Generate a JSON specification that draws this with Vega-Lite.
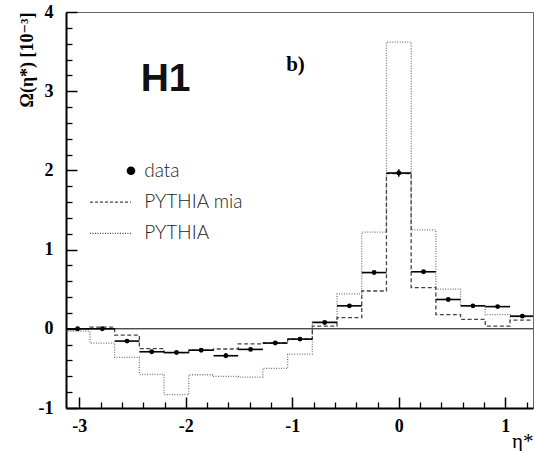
{
  "$schema": "https://vega.github.io/schema/vega-lite/v6.json",
  "width": 467,
  "height": 396,
  "autosize": {"type": "none"},
  "padding": {"left": 66, "top": 12, "right": 1, "bottom": 43},
  "background": "white",
  "config": {
    "view": {"stroke": "#666", "strokeWidth": 1},
    "axis": {"grid": false}
  },
  "datasets": {
    "points": [
      {"eta": -3.016, "lo": -3.132, "hi": -2.900, "omega": 0.00, "elo": -0.02, "ehi": 0.02},
      {"eta": -2.784, "lo": -2.900, "hi": -2.668, "omega": 0.00, "elo": -0.02, "ehi": 0.02},
      {"eta": -2.552, "lo": -2.668, "hi": -2.436, "omega": -0.155, "elo": -0.175, "ehi": -0.135},
      {"eta": -2.320, "lo": -2.436, "hi": -2.204, "omega": -0.29, "elo": -0.31, "ehi": -0.27},
      {"eta": -2.088, "lo": -2.204, "hi": -1.972, "omega": -0.30, "elo": -0.32, "ehi": -0.28},
      {"eta": -1.856, "lo": -1.972, "hi": -1.740, "omega": -0.27, "elo": -0.29, "ehi": -0.25},
      {"eta": -1.624, "lo": -1.740, "hi": -1.508, "omega": -0.34, "elo": -0.37, "ehi": -0.31},
      {"eta": -1.392, "lo": -1.508, "hi": -1.276, "omega": -0.26, "elo": -0.28, "ehi": -0.24},
      {"eta": -1.160, "lo": -1.276, "hi": -1.044, "omega": -0.18, "elo": -0.20, "ehi": -0.16},
      {"eta": -0.928, "lo": -1.044, "hi": -0.812, "omega": -0.13, "elo": -0.15, "ehi": -0.11},
      {"eta": -0.696, "lo": -0.812, "hi": -0.580, "omega": 0.08, "elo": 0.06, "ehi": 0.10},
      {"eta": -0.464, "lo": -0.580, "hi": -0.348, "omega": 0.29, "elo": 0.27, "ehi": 0.31},
      {"eta": -0.232, "lo": -0.348, "hi": -0.116, "omega": 0.71, "elo": 0.69, "ehi": 0.73},
      {"eta": 0.000, "lo": -0.116, "hi": 0.116, "omega": 1.967, "elo": 1.92, "ehi": 2.014},
      {"eta": 0.232, "lo": 0.116, "hi": 0.348, "omega": 0.72, "elo": 0.70, "ehi": 0.74},
      {"eta": 0.464, "lo": 0.348, "hi": 0.580, "omega": 0.37, "elo": 0.35, "ehi": 0.39},
      {"eta": 0.696, "lo": 0.580, "hi": 0.812, "omega": 0.29, "elo": 0.27, "ehi": 0.31},
      {"eta": 0.928, "lo": 0.812, "hi": 1.044, "omega": 0.28, "elo": 0.26, "ehi": 0.30},
      {"eta": 1.160, "lo": 1.044, "hi": 1.276, "omega": 0.16, "elo": 0.14, "ehi": 0.18}
    ],
    "hist": [
      {"edge": -3.132, "mia": 0.00, "pythia": -0.03},
      {"edge": -2.900, "mia": 0.02, "pythia": -0.18},
      {"edge": -2.668, "mia": -0.08, "pythia": -0.36},
      {"edge": -2.436, "mia": -0.25, "pythia": -0.575},
      {"edge": -2.204, "mia": -0.30, "pythia": -0.83},
      {"edge": -1.972, "mia": -0.27, "pythia": -0.58},
      {"edge": -1.740, "mia": -0.255, "pythia": -0.60},
      {"edge": -1.508, "mia": -0.19, "pythia": -0.61},
      {"edge": -1.276, "mia": -0.18, "pythia": -0.50},
      {"edge": -1.044, "mia": -0.13, "pythia": -0.32},
      {"edge": -0.812, "mia": 0.035, "pythia": 0.09},
      {"edge": -0.580, "mia": 0.14, "pythia": 0.44},
      {"edge": -0.348, "mia": 0.477, "pythia": 1.22},
      {"edge": -0.116, "mia": 1.96, "pythia": 3.62},
      {"edge": 0.116, "mia": 0.52, "pythia": 1.25},
      {"edge": 0.348, "mia": 0.18, "pythia": 0.50},
      {"edge": 0.580, "mia": 0.12, "pythia": 0.29},
      {"edge": 0.812, "mia": 0.035, "pythia": 0.18},
      {"edge": 1.044, "mia": 0.11, "pythia": 0.15},
      {"edge": 1.276, "mia": 0.11, "pythia": 0.15}
    ],
    "one": [{}]
  },
  "layer": [
    {
      "data": {"name": "hist"},
      "mark": {"type": "line", "interpolate": "step-after", "clip": true, "color": "#777", "strokeWidth": 1.3, "strokeDash": [1, 1.5]},
      "encoding": {
        "x": {"field": "edge", "type": "quantitative", "scale": {"domain": [-3.125, 1.26], "nice": false, "zero": false},
          "axis": {"orient": "bottom", "values": [-2.8, -2.6, -2.4, -2.2, -1.8, -1.6, -1.4, -1.2, -0.8, -0.6, -0.4, -0.2, 0.2, 0.4, 0.6, 0.8, 1.2],
            "labels": false, "domain": false, "tickSize": -6, "tickColor": "#000", "tickWidth": 1.3, "title": null}},
        "y": {"field": "pythia", "type": "quantitative", "scale": {"domain": [-1, 4], "nice": false, "zero": false},
          "axis": {"orient": "left", "values": [-0.8, -0.6, -0.4, -0.2, 0.2, 0.4, 0.6, 0.8, 1.2, 1.4, 1.6, 1.8, 2.2, 2.4, 2.6, 2.8, 3.2, 3.4, 3.6, 3.8],
            "labels": false, "domain": false, "tickSize": -6, "tickColor": "#000", "tickWidth": 1.3, "title": null}}
      }
    },
    {
      "data": {"name": "hist"},
      "mark": {"type": "line", "interpolate": "step-after", "clip": true, "color": "#444", "strokeWidth": 1.3, "strokeDash": [4, 2.5]},
      "encoding": {
        "x": {"field": "edge", "type": "quantitative", "axis": null},
        "y": {"field": "mia", "type": "quantitative", "axis": null}
      }
    },
    {
      "data": {"name": "one"},
      "mark": {"type": "rule", "color": "#000", "strokeWidth": 1},
      "encoding": {"y": {"datum": 0, "type": "quantitative", "axis": null}}
    },
    {
      "data": {"name": "points"},
      "mark": {"type": "rule", "color": "#000", "strokeWidth": 1.6, "clip": true},
      "encoding": {
        "x": {"field": "lo", "type": "quantitative",
          "axis": {"orient": "bottom", "values": [-3, -2, -1, 0, 1], "labelExpr": "'' + datum.value", "tickSize": -11, "tickWidth": 1.5, "tickColor": "#000",
            "domainColor": "#000", "domainWidth": 2, "labelFont": "Liberation Serif, DejaVu Serif, serif", "labelFontWeight": 700, "labelFontSize": 18,
            "labelColor": "#000", "labelPadding": 20, "title": "η*", "titleFont": "Liberation Serif, DejaVu Serif, serif", "titleFontWeight": "normal",
            "titleFontSize": 21, "titleColor": "#000", "titleAnchor": "end", "titlePadding": -5}},
        "x2": {"field": "hi"},
        "y": {"field": "omega", "type": "quantitative",
          "axis": {"orient": "left", "values": [-1, 0, 1, 2, 3, 4], "labelExpr": "'' + datum.value", "tickSize": -11, "tickWidth": 1.5, "tickColor": "#000",
            "domainColor": "#000", "domainWidth": 2, "labelFont": "Liberation Serif, DejaVu Serif, serif", "labelFontWeight": 700, "labelFontSize": 18,
            "labelColor": "#000", "labelPadding": 24, "title": "Ω(η*) [10⁻³]", "titleFont": "Liberation Serif, DejaVu Serif, serif", "titleFontWeight": "bold",
            "titleFontSize": 18, "titleColor": "#000", "titleAnchor": "end", "titlePadding": 2}}
      }
    },
    {
      "data": {"name": "points"},
      "mark": {"type": "rule", "color": "#000", "strokeWidth": 1.4},
      "encoding": {
        "x": {"field": "eta", "type": "quantitative", "axis": null},
        "y": {"field": "elo", "type": "quantitative", "axis": null},
        "y2": {"field": "ehi"}
      }
    },
    {
      "data": {"name": "points"},
      "mark": {"type": "point", "filled": true, "color": "#000", "size": 24, "opacity": 1},
      "encoding": {
        "x": {"field": "eta", "type": "quantitative", "axis": null},
        "y": {"field": "omega", "type": "quantitative", "axis": null}
      }
    },
    {
      "data": {"name": "one"},
      "mark": {"type": "point", "filled": true, "color": "#000", "size": 75, "opacity": 1},
      "encoding": {
        "x": {"datum": -2.515, "type": "quantitative", "axis": null},
        "y": {"datum": 1.996, "type": "quantitative", "axis": null}
      }
    },
    {
      "data": {"name": "one"},
      "mark": {"type": "rule", "color": "#444", "strokeWidth": 1.2, "strokeDash": [3, 2]},
      "encoding": {
        "x": {"datum": -2.9, "type": "quantitative", "axis": null},
        "x2": {"datum": -2.515},
        "y": {"datum": 1.6, "type": "quantitative", "axis": null}
      }
    },
    {
      "data": {"name": "one"},
      "mark": {"type": "rule", "color": "#444", "strokeWidth": 1.2, "strokeDash": [1, 1.5]},
      "encoding": {
        "x": {"datum": -2.9, "type": "quantitative", "axis": null},
        "x2": {"datum": -2.515},
        "y": {"datum": 1.205, "type": "quantitative", "axis": null}
      }
    },
    {
      "data": {"values": [
        {"label": "data", "lx": -2.39, "ly": 1.996},
        {"label": "PYTHIA mia", "lx": -2.39, "ly": 1.6},
        {"label": "PYTHIA", "lx": -2.39, "ly": 1.205}
      ]},
      "mark": {"type": "text", "align": "left", "baseline": "middle", "font": "Lato", "fontWeight": 300, "fontSize": 19, "letterSpacing": 1.5, "color": "#222"},
      "encoding": {
        "x": {"field": "lx", "type": "quantitative", "axis": null},
        "y": {"field": "ly", "type": "quantitative", "axis": null},
        "text": {"field": "label"}
      }
    },
    {
      "data": {"name": "one"},
      "mark": {"type": "text", "align": "center", "baseline": "middle", "font": "Liberation Sans Narrow, Liberation Sans, sans-serif", "fontWeight": "bold", "fontSize": 39, "color": "#111"},
      "encoding": {
        "x": {"datum": -2.19, "type": "quantitative", "axis": null},
        "y": {"datum": 3.15, "type": "quantitative", "axis": null},
        "text": {"value": "H1"}
      }
    },
    {
      "data": {"name": "one"},
      "mark": {"type": "text", "align": "center", "baseline": "middle", "font": "Liberation Serif, DejaVu Serif, serif", "fontWeight": "bold", "fontSize": 21, "color": "#000"},
      "encoding": {
        "x": {"datum": -0.97, "type": "quantitative", "axis": null},
        "y": {"datum": 3.33, "type": "quantitative", "axis": null},
        "text": {"value": "b)"}
      }
    }
  ],
  "resolve": {"axis": {"x": "independent", "y": "independent"}}
}
